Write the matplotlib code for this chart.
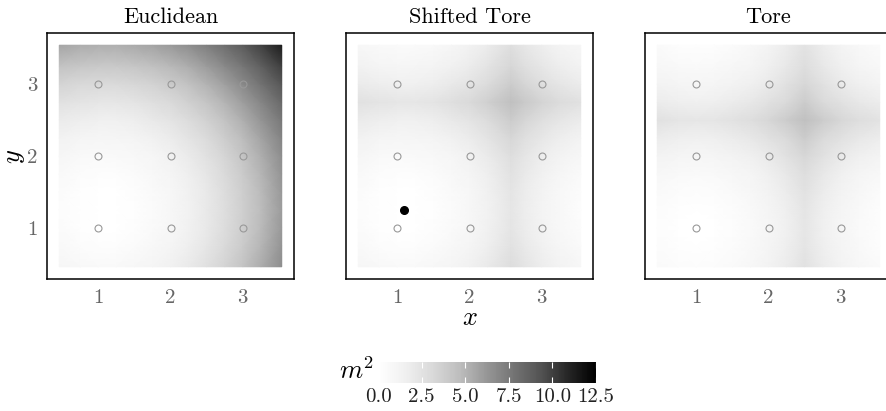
import numpy as np
import matplotlib
matplotlib.use('Agg')
import matplotlib.pyplot as plt

plt.rcParams['font.family'] = 'serif'
plt.rcParams['font.serif'] = ['cmr10']
plt.rcParams['mathtext.fontset'] = 'cm'
plt.rcParams['axes.formatter.use_mathtext'] = True

titles = ['Euclidean', 'Shifted Tore', 'Tore']

# sample positions across each map (same for y), squared offsets read per axis
grid = [0.46, 0.75, 1.0, 1.25, 1.5, 1.75, 2.0, 2.25, 2.5, 2.75, 3.0, 3.25, 3.54]
grid_shift_x = [0.46, 0.75, 1.0, 1.25, 1.5, 1.75, 2.0, 2.25, 2.58, 2.75, 3.0, 3.25, 3.54]

eucl_x = [0.38, 0.11, 0.01, 0.03, 0.18, 0.45, 0.85, 1.37, 2.02, 2.79, 3.69, 4.71, 6.05]
eucl_y = [0.62, 0.25, 0.06, 0.0, 0.06, 0.25, 0.56, 1.0, 1.56, 2.25, 3.06, 4.0, 5.24]
shift_x = [0.38, 0.11, 0.01, 0.03, 0.18, 0.45, 0.85, 1.37, 2.25, 1.77, 1.17, 0.69, 0.29]
shift_y = [0.62, 0.25, 0.06, 0.0, 0.06, 0.25, 0.56, 1.0, 1.56, 2.25, 1.56, 1.0, 0.5]
tore_x = [0.29, 0.06, 0.0, 0.06, 0.25, 0.56, 1.0, 1.56, 2.25, 1.56, 1.0, 0.56, 0.21]
tore_y = [0.29, 0.06, 0.0, 0.06, 0.25, 0.56, 1.0, 1.56, 2.25, 1.56, 1.0, 0.56, 0.21]

nodes = [1, 2, 3]
ref_point = (1.09, 1.25)
cbar_ticks = [0.0, 2.5, 5.0, 7.5, 10.0, 12.5]

panels = [(grid, eucl_x, grid, eucl_y),
          (grid_shift_x, shift_x, grid, shift_y),
          (grid, tore_x, grid, tore_y)]

fig = plt.figure(figsize=(8.86, 4.11), dpi=100)
lefts = [47 / 886, 346 / 886, 645 / 886]
w, h = 247 / 886, 246 / 411
bottom = 1 - 279 / 411

for i, (gx, vx, gy, vy) in enumerate(panels):
    ax = fig.add_axes([lefts[i], bottom, w, h])
    X, Y = np.meshgrid(gx, gy)
    Z = np.array(vy)[:, None] + np.array(vx)[None, :]
    mesh = ax.pcolormesh(X, Y, Z, shading='gouraud', cmap='Greys', vmin=0, vmax=12.5)
    gxx, gyy = np.meshgrid(nodes, nodes)
    ax.plot(gxx.ravel(), gyy.ravel(), 'o', mfc='none', mec='#999999', ms=5, mew=0.8)
    if i == 1:
        ax.plot(*ref_point, 'o', color='black', ms=5.5)
    ax.set_xlim(0.29, 3.71)
    ax.set_ylim(0.29, 3.71)
    ax.set_xticks(nodes)
    ax.set_xticklabels([str(n) for n in nodes])
    if i == 0:
        ax.set_yticks(nodes)
        ax.set_yticklabels([str(n) for n in nodes])
        ax.set_ylabel('$y$', fontsize=19, labelpad=0)
    else:
        ax.set_yticks([])
    if i == 1:
        ax.set_xlabel('$x$', fontsize=19, labelpad=0)
    ax.tick_params(length=0, pad=7, labelsize=15, labelcolor='#666666')
    for sp in ax.spines.values():
        sp.set_linewidth(1.1)
    ax.set_title(titles[i], fontsize=16, pad=7)

cax = fig.add_axes([378 / 886, 1 - 383 / 411, 218 / 886, 21 / 411])
cbar = fig.colorbar(mesh, cax=cax, orientation='horizontal', ticks=cbar_ticks)
cbar.set_ticklabels(['%.1f' % t for t in cbar_ticks])
cax.tick_params(direction='in', top=True, bottom=True, color='white', length=4,
                width=0.8, labelsize=15, pad=4, labelcolor='#222222')
cbar.outline.set_visible(False)
fig.text(357 / 886, 1 - 371 / 411, '$m^2$', fontsize=19, ha='center', va='center')

fig.savefig('out.png', dpi=100)
